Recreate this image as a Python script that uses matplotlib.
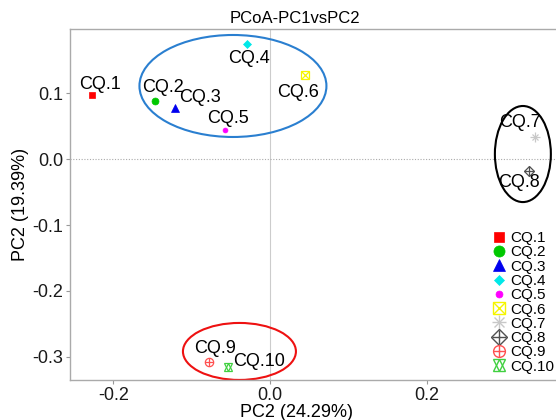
import matplotlib
matplotlib.use("Agg")
import matplotlib.pyplot as plt
from matplotlib.lines import Line2D
from matplotlib.patches import Ellipse
from matplotlib.legend_handler import HandlerTuple

plt.rcParams['font.family'] = ['Liberation Sans', 'DejaVu Sans']

# ---- data ----
samples = ["CQ.1", "CQ.2", "CQ.3", "CQ.4", "CQ.5", "CQ.6", "CQ.7", "CQ.8", "CQ.9", "CQ.10"]
pc1 = [-0.2277, -0.1473, -0.1210, -0.0294, -0.0571, 0.0447, 0.3390, 0.3310, -0.0779, -0.0540]
pc2 = [0.0973, 0.0890, 0.0784, 0.1748, 0.0445, 0.1277, 0.0343, -0.0173, -0.3076, -0.3160]
title = "PCoA-PC1vsPC2"
xlabel = "PC2 (24.29%)"
ylabel = "PC2 (19.39%)"
xticks = [-0.2, 0.0, 0.2]
yticks = [0.1, 0.0, -0.1, -0.2, -0.3]

# ---- styles (label offsets in pixels, marker components) ----
label_offsets = [(8, 11), (8, 13), (25, 10), (2, -14), (3, 12), (-7, -17),
                 (-15, 14), (-10, -12), (6, 13), (31, 6)]
colors = ["#ff0000", "#00c800", "#0000ee", "#00e8e8", "#ff00ff",
          "#f5f500", "#c8c8c8", "#505050", "#ff5050", "#40d040"]
# (marker, filled, plot size, legend size)
components = [
    [("s", True, 4.5, 7.5)],
    [("o", True, 5, 8)],
    [("^", True, 6, 9)],
    [("D", True, 4, 5.5)],
    [("o", True, 3.5, 5)],
    [("s", False, 6, 8), ("x", False, 6, 8)],
    [("+", False, 7, 10), ("x", False, 5, 7)],
    [("D", False, 5.5, 8), ("+", False, 7, 10)],
    [("o", False, 6, 8.5), ("+", False, 6, 8.5)],
    [("^", False, 6, 9), ("v", False, 6, 9)],
]
ellipses = [
    # center x, center y, width, height, color
    (-0.0473, 0.1114, 0.2388, 0.155, "#2a7fd0"),
    (0.3230, 0.0080, 0.0715, 0.146, "#000000"),
    (-0.0390, -0.2920, 0.1443, 0.0866, "#ee1111"),
]

fig = plt.figure(figsize=(5.56, 4.2), dpi=100)
ax = fig.add_axes([70 / 556, 40 / 420, 486 / 556, 351 / 420])
ax.set_xlim(-0.2554, 0.3653)
ax.set_ylim(-0.3354, 0.198)

ax.axvline(0, color="#cccccc", lw=0.8, zorder=0)
ax.axhline(0, color="#aaaaaa", lw=0.8, ls=(0, (1, 1.5)), zorder=0)

handles = []
for i, name in enumerate(samples):
    parts = []
    for (m, filled, ps, ls) in components[i]:
        fc = colors[i] if filled else "none"
        ax.plot([pc1[i]], [pc2[i]], marker=m, ls="none", ms=ps,
                mfc=fc, mec=colors[i], mew=0.9 if not filled else 0.5, zorder=3)
        parts.append(Line2D([], [], marker=m, ls="none", ms=ls, mfc=fc,
                            mec=colors[i], mew=1.0 if not filled else 0.5))
    handles.append(tuple(parts))
    ax.annotate(name, (pc1[i], pc2[i]), xytext=label_offsets[i],
                textcoords="offset pixels", ha="center", va="center",
                fontsize=13, color="black", zorder=4)

for (cx, cy, w, h, c) in ellipses:
    ax.add_patch(Ellipse((cx, cy), w, h, fill=False, ec=c, lw=1.5, zorder=2))

ax.set_xticks(xticks)
ax.set_xticklabels(["-0.2", "0.0", "0.2"])
ax.set_yticks(yticks)
ax.set_yticklabels(["0.1", "0.0", "-0.1", "-0.2", "-0.3"])
ax.tick_params(colors="#999999", labelcolor="#1a1a1a", labelsize=13,
               length=3, width=0.8, pad=2)
for s in ["left", "bottom", "top"]:
    ax.spines[s].set_color("#aaaaaa")
    ax.spines[s].set_linewidth(1.0)
ax.spines["right"].set_visible(False)

ax.set_title(title, fontsize=12, x=0.463, pad=4)
ax.set_xlabel(xlabel, fontsize=13, x=0.467, labelpad=0)
ax.set_ylabel(ylabel, fontsize=13, labelpad=2)

leg = ax.legend(handles, samples, handler_map={tuple: HandlerTuple(ndivide=1, pad=0)},
                loc="upper left", bbox_to_anchor=(493 / 556, (420 - 231) / 420),
                bbox_transform=fig.transFigure, frameon=False, fontsize=11,
                handlelength=0.8, handletextpad=0.3, labelspacing=0.02,
                borderpad=0, borderaxespad=0)

fig.savefig("out.png", dpi=100)
